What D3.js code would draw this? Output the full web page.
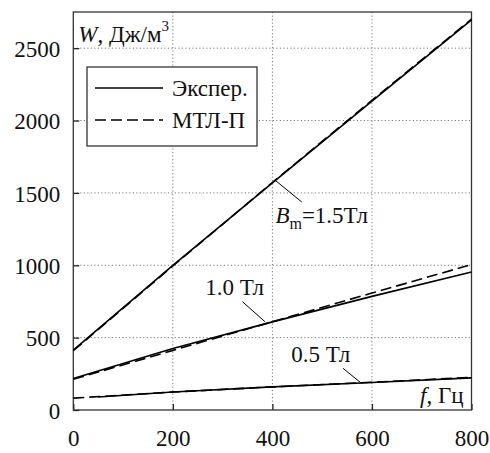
<!DOCTYPE html>
<html>
<head>
<meta charset="utf-8">
<script src="https://cdn.jsdelivr.net/npm/d3@7"></script>
</head>
<body style="margin:0">
<svg id="s"></svg>
<script>
// values
const freq = [0, 200, 400, 600, 800];
const freqExp05 = [50, 200, 400, 600, 800];
const exp15 = [414, 1000, 1570, 2135, 2695];
const mtl15 = [410, 995, 1572, 2140, 2700];
const exp10 = [218, 425, 609, 785, 954];
const mtl10 = [212, 412, 610, 808, 1005];
const exp05 = [90, 124, 160, 190, 222];
const mtl05 = [82, 124, 160, 192, 225];
const xTicks = [0, 200, 400, 600, 800];
const yTicks = [0, 500, 1000, 1500, 2000, 2500];
const legendLabels = ['Экспер.', 'МТЛ-П'];

const fontName = 'Liberation Serif';
const width = 490, height = 453;
const margin = { top: 12, right: 18.5, bottom: 43, left: 73.3 };
const w = width - margin.left - margin.right;
const h = height - margin.top - margin.bottom;

const svg = d3.select('#s')
    .attr('width', width)
    .attr('height', height)
    .attr('font-family', fontName);

const g = svg.append('g')
    .attr('transform', `translate(${margin.left},${margin.top})`);

const x = d3.scaleLinear().domain([0, 800]).range([0, w]);
const y = d3.scaleLinear().domain([0, 2750]).range([h, 0]);

// dotted grid
g.selectAll('.gx')
    .data(xTicks.filter(d => d > 0 && d < 800))
    .join('line')
    .attr('x1', d => x(d)).attr('x2', d => x(d))
    .attr('y1', 0).attr('y2', h)
    .attr('stroke', '#777').attr('stroke-width', 1)
    .attr('stroke-dasharray', '1.2,2.3');
g.selectAll('.gy')
    .data(yTicks.filter(d => d > 0))
    .join('line')
    .attr('x1', 0).attr('x2', w)
    .attr('y1', d => y(d)).attr('y2', d => y(d))
    .attr('stroke', '#777').attr('stroke-width', 1)
    .attr('stroke-dasharray', '1.2,2.3');

// axes with inward ticks
const xAxis = g.append('g')
    .attr('transform', `translate(0,${h})`)
    .call(d3.axisBottom(x).tickValues(xTicks).tickSize(-6).tickPadding(20).tickFormat(d3.format('d')));
const yAxis = g.append('g')
    .call(d3.axisLeft(y).tickValues(yTicks).tickSize(-6).tickPadding(13).tickFormat(d3.format('d')));
[xAxis, yAxis].forEach(a => {
    a.attr('font-family', fontName).attr('font-size', 23);
    a.select('.domain').remove();
    a.selectAll('.tick line').attr('stroke', '#222').attr('stroke-width', 1.3);
    a.selectAll('.tick text').attr('fill', '#111').attr('font-family', fontName);
});
yAxis.selectAll('.tick text').attr('dy', '0.36em');

// frame
g.append('rect')
    .attr('width', w).attr('height', h)
    .attr('fill', 'none').attr('stroke', '#333').attr('stroke-width', 1.3);

const line = d3.line().x(d => x(d[0])).y(d => y(d[1]));
const series = [
    { f: freq, v: mtl15, dash: '11,5' },
    { f: freq, v: exp15, dash: null },
    { f: freq, v: mtl10, dash: '11,5' },
    { f: freq, v: exp10, dash: null },
    { f: freq, v: mtl05, dash: '11,5' },
    { f: freqExp05, v: exp05, dash: null }
];
g.selectAll('.curve')
    .data(series)
    .join('path')
    .attr('d', s => line(s.f.map((f, i) => [f, s.v[i]])))
    .attr('fill', 'none')
    .attr('stroke', '#000')
    .attr('stroke-width', 1.6)
    .attr('stroke-dasharray', s => s.dash);

// annotations (data coordinates)
const leaders = [
    [[405, 1589], [459, 1437]],
    [[340, 748], [385, 610]],
    [[542, 288], [579, 184]]
];
g.selectAll('.leader')
    .data(leaders)
    .join('line')
    .attr('x1', d => x(d[0][0])).attr('y1', d => y(d[0][1]))
    .attr('x2', d => x(d[1][0])).attr('y2', d => y(d[1][1]))
    .attr('stroke', '#000').attr('stroke-width', 1);

function label(sel) {
    return sel.attr('font-family', fontName).attr('font-size', 23).attr('fill', '#111');
}

const lab15 = label(g.append('text')
    .attr('x', x(406)).attr('y', y(1292)));
lab15.append('tspan').attr('font-style', 'italic').text('B');
lab15.append('tspan').attr('dy', 6).attr('font-size', 16).text('m');
lab15.append('tspan').attr('dy', -6).text('=1.5Тл');

label(g.append('text')
    .attr('x', x(265)).attr('y', y(795))).text('1.0 Тл');
label(g.append('text')
    .attr('x', x(438)).attr('y', y(334))).text('0.5 Тл');

// axis titles
const yTitle = label(g.append('text')
    .attr('x', 5).attr('y', 30));
yTitle.append('tspan').attr('font-style', 'italic').text('W');
yTitle.append('tspan').text(', Дж/м');
yTitle.append('tspan').attr('dy', -11).attr('font-size', 15).text('3');

const xTitle = label(g.append('text')
    .attr('x', w - 8).attr('y', h - 7)
    .attr('text-anchor', 'end'));
xTitle.append('tspan').attr('font-style', 'italic').text('f');
xTitle.append('tspan').text(', Гц');

// legend
const lg = svg.append('g').attr('transform', 'translate(87,67)');
lg.append('rect')
    .attr('width', 170).attr('height', 79)
    .attr('fill', '#fff').attr('stroke', '#333').attr('stroke-width', 1.3);
lg.selectAll('.item')
    .data(legendLabels)
    .join('g')
    .attr('transform', (d, i) => `translate(0,${21 + i * 32})`)
    .each(function (d, i) {
        const it = d3.select(this);
        it.append('line')
            .attr('x1', 8).attr('x2', 76)
            .attr('stroke', '#000').attr('stroke-width', 1.6)
            .attr('stroke-dasharray', i === 1 ? '11,5' : null);
        label(it.append('text')
            .attr('x', 85).attr('dy', '0.35em')).text(d);
    });
</script>
</body>
</html>
